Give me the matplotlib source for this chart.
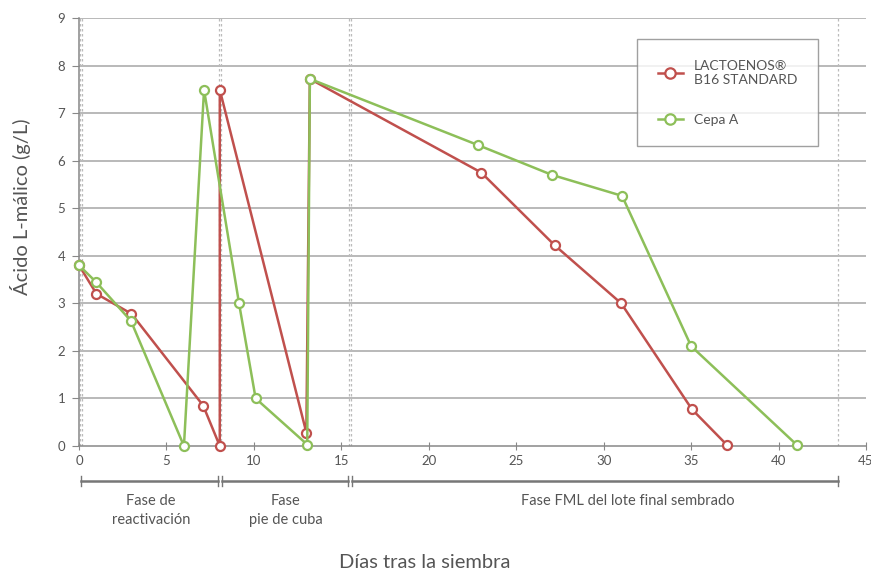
import matplotlib
matplotlib.use('Agg')
import matplotlib.pyplot as plt
import matplotlib.transforms as mtransforms

plt.rcParams['font.family'] = ['Lato', 'DejaVu Sans']

# Datos
red_x = [0, 1.0, 3.0, 7.1, 8.05, 8.05, 13.0, 13.2, 23.0, 27.2, 31.0, 35.05, 37.05]
red_y = [3.8, 3.2, 2.78, 0.85, 0.0, 7.49, 0.28, 7.72, 5.75, 4.22, 3.0, 0.77, 0.02]
green_x = [0, 0.97, 2.97, 6.0, 7.15, 9.15, 10.1, 13.05, 13.2, 22.8, 27.05, 31.05, 35.0, 41.05]
green_y = [3.8, 3.45, 2.63, 0.0, 7.49, 3.0, 1.0, 0.03, 7.72, 6.33, 5.7, 5.26, 2.1, 0.02]

series_names = ['LACTOENOS®\nB16 STANDARD', 'Cepa A']
phase_edges = [0.1, 8.05, 15.5, 43.4]
phase_labels = ['Fase de\nreactivación', 'Fase\npie de cuba', 'Fase FML del lote final sembrado']
phase_label_x = [4.1, 11.8, 31.4]

red = '#C0504D'
green = '#8DBF59'
txt = '#555555'

fig = plt.figure(figsize=(8.71, 5.72), dpi=100)
ax = fig.add_axes([0.0907, 0.2203, 0.9036, 0.7482])

ax.set_xlim(0, 45)
ax.set_ylim(0, 9)
ax.set_xticks(range(0, 46, 5))
ax.set_yticks(range(0, 10))

# líneas horizontales
for y in range(1, 10):
    ax.axhline(y, color='#A6A6A6', lw=1.1, zorder=1)

# líneas verticales punteadas (límites de fase)
for x in [0.05, 0.2, 7.98, 8.13, 15.42, 15.58]:
    ax.axvline(x, color='#BBBBBB', lw=0.9, ls=(0, (2, 2)), zorder=1)
ax.axvline(43.4, color='#BBBBBB', lw=0.9, ls=(0, (2, 2)), zorder=1)

ax.plot(red_x, red_y, color=red, lw=1.8, marker='o', ms=6.5, mfc='white',
        mec=red, mew=1.6, label=series_names[0], zorder=3, clip_on=False)
ax.plot(green_x, green_y, color=green, lw=1.8, marker='o', ms=6.5, mfc='white',
        mec=green, mew=1.6, label=series_names[1], zorder=4, clip_on=False)

for s in ['top', 'right']:
    ax.spines[s].set_visible(False)
ax.spines['left'].set_color('#888888')
ax.spines['bottom'].set_color('#888888')
ax.spines['left'].set_linewidth(1.1)
ax.spines['bottom'].set_linewidth(1.1)
ax.tick_params(axis='both', colors='#888888', labelcolor=txt, labelsize=9.5,
               direction='inout', length=6)
ax.tick_params(axis='y', direction='out', length=5, pad=5)

ax.set_ylabel('Ácido L-málico (g/L)', fontsize=14.5, color=txt)
ax.yaxis.set_label_coords(-0.061, 0.56)
fig.text(0.488, 0.016, 'Días tras la siembra', fontsize=14.5, color=txt,
         ha='center', va='center')

# corchetes de fase debajo del eje
trans = mtransforms.blended_transform_factory(ax.transData, ax.transAxes)
by = -0.082
gap = 0.12
for i in range(len(phase_labels)):
    x0 = phase_edges[i] + (gap if i > 0 else 0)
    x1 = phase_edges[i + 1] - (gap if i < len(phase_labels) - 1 else 0)
    ax.plot([x0, x1], [by, by], color='#777777', lw=1.8, transform=trans, clip_on=False)
    for xe in (x0, x1):
        ax.plot([xe, xe], [by - 0.012, by + 0.012], color='#777777', lw=1,
                transform=trans, clip_on=False)
    ax.text(phase_label_x[i], by - 0.03, phase_labels[i], transform=trans,
            ha='center', va='top', fontsize=10.5, color=txt, linespacing=1.45)

leg = ax.legend(loc='upper right', bbox_to_anchor=(0.939, 0.951), frameon=True,
                fancybox=False, edgecolor='#888888', fontsize=10,
                borderpad=1.5, handlelength=1.8, labelspacing=2.0,
                handletextpad=0.8, borderaxespad=0, markerscale=1.15)
leg.get_frame().set_linewidth(1.0)
for t in leg.get_texts():
    t.set_color(txt)

fig.savefig('out.png', dpi=100)
